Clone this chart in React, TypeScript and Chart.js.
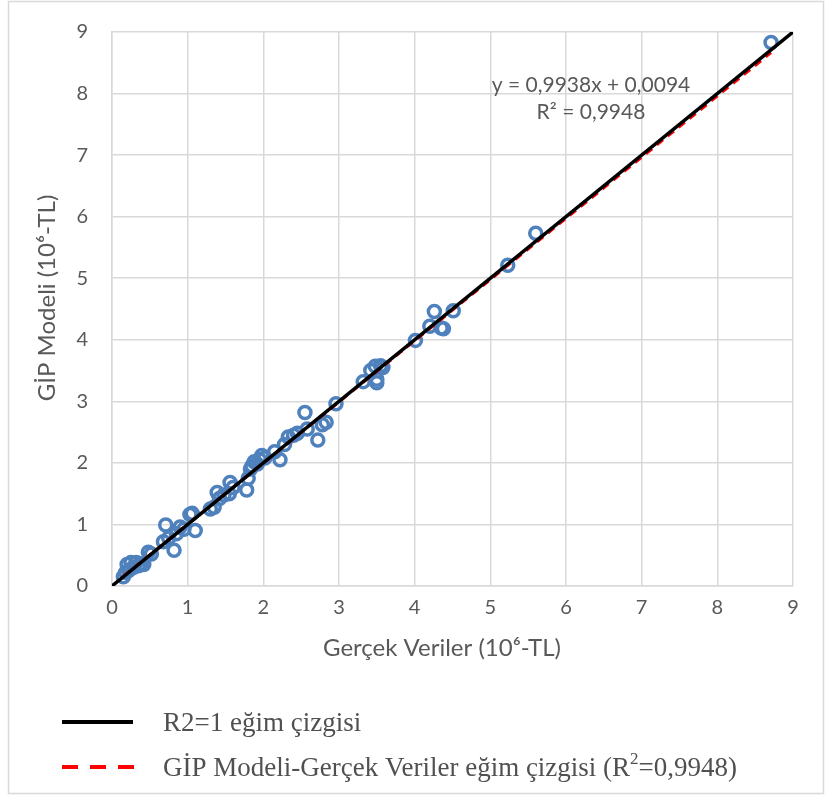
import React, { useEffect, useRef } from "react";
import { Chart, registerables } from "chart.js";

Chart.register(...registerables);

// Observed (Gerçek Veriler) values, 10^6 TL
const actualValues = [
  0.15, 0.18, 0.22, 0.25, 0.28, 0.32, 0.35, 0.38, 0.2, 0.42, 0.48, 0.52,
  0.68, 0.71, 0.75, 0.82, 0.85, 0.9, 0.95, 1.03, 1.06, 1.1,
  1.3, 1.35, 1.39, 1.42, 1.48, 1.55, 1.56, 1.6,
  1.78, 1.8, 1.83, 1.85, 1.88, 1.92, 1.98, 1.95, 2.02,
  2.15, 2.22, 2.28, 2.33, 2.4, 2.45, 2.55, 2.58, 2.72, 2.78, 2.83, 2.96,
  3.32, 3.42, 3.48, 3.5, 3.5, 3.55, 3.58,
  4.01, 4.2, 4.26, 4.35, 4.38, 4.51,
  5.23, 5.6, 8.71,
];
// Model (GİP Modeli) values, 10^6 TL
const modelValues = [
  0.15, 0.22, 0.25, 0.38, 0.3, 0.38, 0.33, 0.36, 0.35, 0.35, 0.55, 0.52,
  0.72, 0.99, 0.78, 0.58, 0.85, 0.96, 0.92, 1.16, 1.18, 0.9,
  1.25, 1.28, 1.52, 1.42, 1.48, 1.5, 1.68, 1.6,
  1.56, 1.75, 1.9, 1.95, 2.02, 1.98, 2.12, 2.05, 2.08,
  2.18, 2.05, 2.3, 2.42, 2.45, 2.48, 2.82, 2.55, 2.37, 2.62, 2.66, 2.96,
  3.32, 3.5, 3.57, 3.36, 3.3, 3.58, 3.55,
  3.99, 4.22, 4.46, 4.19, 4.18, 4.47,
  5.21, 5.73, 8.83,
];

const identityX = [0, 9];
const identityY = [0, 9];
const trendSlope = 0.9938;
const trendIntercept = 0.0094;
const trendX = [0.15, 8.71];

const tickValues = [0, 1, 2, 3, 4, 5, 6, 7, 8, 9];
const xTitle = "Gerçek Veriler (10⁶-TL)";
const yTitle = "GİP Modeli (10⁶-TL)";
const equationLine1 = "y = 0,9938x + 0,0094";
const equationLine2 = "R² = 0,9948";
const legendLabel1 = "R2=1 eğim çizgisi";
const legendLabel2a = "GİP Modeli-Gerçek Veriler eğim çizgisi (R";
const legendLabel2sup = "2";
const legendLabel2b = "=0,9948)";

const GRID = "#d9d9d9";
const TEXT = "#595959";
const FONT = "Lato, 'Open Sans', sans-serif";
const SERIF = "'Liberation Serif', 'DejaVu Serif', serif";

const overlayPlugin = {
  id: "overlay",
  afterDraw(chart: any) {
    const ctx = chart.ctx;
    ctx.save();
    // outer frame
    ctx.strokeStyle = GRID;
    ctx.lineWidth = 1.5;
    ctx.strokeRect(8.5, 1.5, 815, 792);

    // equation text
    ctx.fillStyle = TEXT;
    ctx.font = `21px ${FONT}`;
    ctx.textAlign = "center";
    ctx.textBaseline = "middle";
    ctx.fillText(equationLine1, 591, 85);
    ctx.fillText(equationLine2, 591, 112);

    // x-axis title
    ctx.font = `24px ${FONT}`;
    ctx.fillText(xTitle, 442, 648);
    // y-axis title
    ctx.save();
    ctx.translate(47, 298);
    ctx.rotate(-Math.PI / 2);
    ctx.fillText(yTitle, 0, 0);
    ctx.restore();

    // legend
    ctx.lineWidth = 4;
    ctx.strokeStyle = "#000000";
    ctx.beginPath();
    ctx.moveTo(62, 722);
    ctx.lineTo(133, 722);
    ctx.stroke();
    ctx.strokeStyle = "#ff0000";
    ctx.setLineDash([16, 12]);
    ctx.beginPath();
    ctx.moveTo(62, 767);
    ctx.lineTo(134, 767);
    ctx.stroke();
    ctx.setLineDash([]);

    ctx.fillStyle = "#505050";
    ctx.textAlign = "left";
    ctx.textBaseline = "alphabetic";
    ctx.font = `27px ${SERIF}`;
    ctx.fillText(legendLabel1, 163, 731);
    let tx = 163;
    ctx.fillText(legendLabel2a, tx, 776);
    tx += ctx.measureText(legendLabel2a).width;
    ctx.font = `17px ${SERIF}`;
    ctx.fillText(legendLabel2sup, tx, 764);
    tx += ctx.measureText(legendLabel2sup).width;
    ctx.font = `27px ${SERIF}`;
    ctx.fillText(legendLabel2b, tx, 776);
    ctx.restore();
  },
};

export default function App() {
  const ref = useRef<HTMLCanvasElement>(null);
  useEffect(() => {
    if (!ref.current) return;
    const scatter = actualValues.map((x, i) => ({ x, y: modelValues[i] }));
    const identity = identityX.map((x, i) => ({ x, y: identityY[i] }));
    const trend = trendX.map((x) => ({ x, y: trendSlope * x + trendIntercept }));
    const chart = new Chart(ref.current, {
      type: "scatter",
      data: {
        datasets: [
          {
            type: "line",
            label: legendLabel1,
            data: identity,
            borderColor: "#000000",
            borderWidth: 3.5,
            pointRadius: 0,
            fill: false,
            order: 0,
          },
          {
            type: "line",
            label: "trend",
            data: trend,
            borderColor: "#ff0000",
            borderWidth: 3,
            borderDash: [8, 6],
            pointRadius: 0,
            fill: false,
            order: 1,
          },
          {
            label: "data",
            data: scatter,
            pointStyle: "circle",
            pointRadius: 6,
            borderWidth: 3.5,
            borderColor: "#4f81bd",
            backgroundColor: "rgba(0,0,0,0)",
            order: 2,
          },
        ] as any,
      },
      options: {
        animation: false,
        responsive: false,
        events: [],
        layout: { padding: { left: 0, right: 37, top: 32, bottom: 130 } },
        plugins: { legend: { display: false }, tooltip: { enabled: false } },
        scales: {
          x: {
            type: "linear",
            min: 0,
            max: 9,
            afterBuildTicks: (s: any) => {
              s.ticks = tickValues.map((v) => ({ value: v }));
            },
            afterFit: (s: any) => {
              s.height = 80;
              s.paddingLeft = 0;
              s.paddingRight = 0;
            },
            ticks: { color: TEXT, font: { family: FONT, size: 20 }, padding: 10 },
            grid: { color: GRID, lineWidth: 1.5, drawTicks: false },
            border: { color: GRID, width: 1.5 },
          },
          y: {
            type: "linear",
            min: 0,
            max: 9,
            afterBuildTicks: (s: any) => {
              s.ticks = tickValues.map((v) => ({ value: v }));
            },
            afterFit: (s: any) => {
              s.width = 112;
              s.paddingTop = 0;
              s.paddingBottom = 0;
            },
            ticks: { color: TEXT, font: { family: FONT, size: 20 }, padding: 24 },
            grid: { color: GRID, lineWidth: 1.5, drawTicks: false },
            border: { color: GRID, width: 1.5 },
          },
        },
      },
      plugins: [overlayPlugin],
    } as any);
    return () => chart.destroy();
  }, []);
  return (
    <div style={{ position: "absolute", left: 0, top: 0, width: 830, height: 796, background: "#fff" }}>
      <canvas ref={ref} width={830} height={796} style={{ width: 830, height: 796 }} />
    </div>
  );
}
